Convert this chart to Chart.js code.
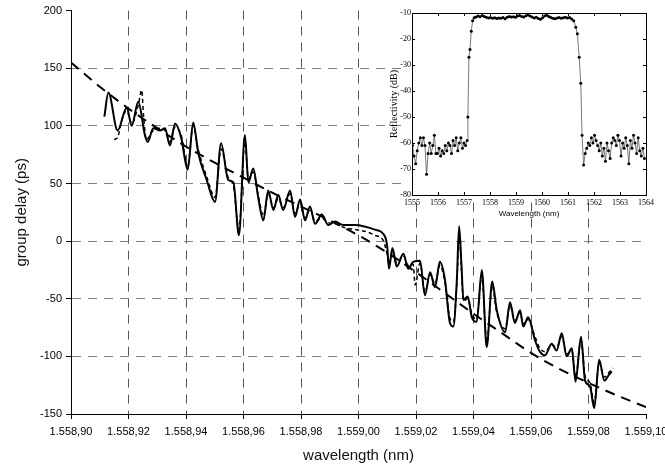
<!DOCTYPE html>
<html>
<head>
<meta charset="utf-8">
<script src="https://cdn.jsdelivr.net/npm/chart.js@4.4.1/dist/chart.umd.min.js"></script>
<style>
  html, body { margin: 0; padding: 0; background: #fff; overflow: hidden; width: 665px; height: 470px; }
  #wrap { position: relative; width: 665px; height: 470px; }
  #main { position: absolute; left: 0; top: 0; }
  #inset { position: absolute; left: 370px; top: 0; }
</style>
</head>
<body>
<div id="wrap">
  <canvas id="main" width="700" height="470"></canvas>
  <canvas id="inset" width="290" height="225"></canvas>
</div>
<script>
// group delay, measurement 1 (solid)
const measWl1 = [1558.9116, 1558.9130, 1558.9162, 1558.9194, 1558.9211, 1558.9234, 1558.9257, 1558.9267, 1558.9286, 1558.9310,
  1558.9327, 1558.9344, 1558.9362, 1558.9383, 1558.9406, 1558.9425, 1558.9443, 1558.9472, 1558.9501, 1558.9522,
  1558.9547, 1558.9565, 1558.9584, 1558.9605, 1558.9617, 1558.9634, 1558.9651, 1558.9669, 1558.9686, 1558.9704,
  1558.9721, 1558.9738, 1558.9762, 1558.9779, 1558.9797, 1558.9814, 1558.9831, 1558.9849, 1558.9872, 1558.9895,
  1558.9918, 1558.9947, 1558.9988, 1559.0057, 1559.0092, 1559.0100, 1559.0106, 1559.0118, 1559.0133, 1559.0156,
  1559.0173, 1559.0190, 1559.0214, 1559.0231, 1559.0249, 1559.0266, 1559.0283, 1559.0301, 1559.0318, 1559.0330,
  1559.0342, 1559.0350, 1559.0358, 1559.0365, 1559.0380, 1559.0394, 1559.0411, 1559.0429, 1559.0446, 1559.0465,
  1559.0481, 1559.0510, 1559.0527, 1559.0544, 1559.0562, 1559.0573, 1559.0590, 1559.0614, 1559.0631, 1559.0649,
  1559.0672, 1559.0689, 1559.0707, 1559.0724, 1559.0742, 1559.0755, 1559.0774, 1559.0788, 1559.0805, 1559.0820,
  1559.0837, 1559.0855, 1559.0871, 1559.0881];
const measDelay1 = [108, 129, 96, 116, 100, 121, 92, 86, 98, 96,
  98, 83, 102, 90, 62, 103, 76, 53, 34, 85,
  53, 51, 5, 92, 51, 63, 38, 18, 44, 27,
  40, 27, 44, 21, 36, 18, 30, 15, 23, 14,
  17, 14, 14, 10, 4, -5, -24, -6, -22, -11,
  -24, -18, -17, -47, -27, -40, -18, -34, -71, -74,
  -34, 13, -20, -51, -48, -66, -70, -25, -92, -35,
  -60, -79, -53, -71, -60, -74, -66, -86, -96, -99,
  -89, -95, -80, -100, -93, -122, -83, -121, -126, -145,
  -103, -121, -116, -113];

// group delay, measurement 2 (dashed)
const measWl2 = [1558.9150, 1558.9162, 1558.9180, 1558.9194, 1558.9211, 1558.9234, 1558.9246, 1558.9252, 1558.9262, 1558.9286,
  1558.9310, 1558.9327, 1558.9344, 1558.9362, 1558.9383, 1558.9406, 1558.9425, 1558.9443, 1558.9472, 1558.9501,
  1558.9522, 1558.9547, 1558.9565, 1558.9584, 1558.9605, 1558.9617, 1558.9634, 1558.9651, 1558.9669, 1558.9686,
  1558.9704, 1558.9721, 1558.9738, 1558.9762, 1558.9779, 1558.9797, 1558.9814, 1558.9831, 1558.9849, 1558.9872,
  1558.9895, 1558.9918, 1558.9947, 1558.9988, 1559.0030, 1559.0057, 1559.0085, 1559.0100, 1559.0106, 1559.0118,
  1559.0133, 1559.0156, 1559.0173, 1559.0190, 1559.0197, 1559.0214, 1559.0231, 1559.0249, 1559.0266, 1559.0283,
  1559.0301, 1559.0318, 1559.0330, 1559.0342, 1559.0350, 1559.0358, 1559.0365, 1559.0380, 1559.0394, 1559.0411,
  1559.0429, 1559.0446, 1559.0465, 1559.0481, 1559.0510, 1559.0527, 1559.0544, 1559.0562, 1559.0573, 1559.0590,
  1559.0614, 1559.0631, 1559.0649, 1559.0672, 1559.0689, 1559.0707, 1559.0724, 1559.0742, 1559.0755, 1559.0774,
  1559.0788, 1559.0805, 1559.0820, 1559.0837, 1559.0855, 1559.0871, 1559.0885];
const measDelay2 = [88, 90, 108, 113, 102, 118, 131, 110, 88, 96,
  98, 96, 86, 99, 92, 65, 100, 79, 56, 38,
  80, 55, 48, 10, 86, 54, 60, 40, 22, 41,
  29, 37, 29, 41, 24, 33, 20, 28, 17, 20,
  16, 15, 12, 10, 8, 5, 1, -12, -20, -9,
  -19, -13, -21, -20, -38, -19, -44, -29, -37, -21,
  -36, -67, -70, -38, 5, -24, -52, -50, -63, -68,
  -30, -88, -39, -62, -76, -56, -69, -62, -72, -68,
  -83, -93, -96, -90, -92, -83, -98, -95, -118, -86,
  -117, -123, -140, -106, -118, -114, -110];

// fitted group delay (long dashes)
const fitWl = [1558.90, 1558.91, 1558.92, 1558.93, 1558.94, 1558.95, 1558.96, 1558.97, 1558.98, 1558.99, 1559.00,
  1559.01, 1559.02, 1559.03, 1559.04, 1559.05, 1559.06, 1559.07, 1559.08, 1559.09, 1559.10];
const fitDelay = [155, 134, 115, 98, 82, 68, 55, 42, 30, 18, 5,
  -10, -27, -45, -63, -80, -97, -111, -123, -134, -144];

// inset: reflectivity spectrum
const reflWlLow = [1555.02, 1555.08, 1555.14, 1555.20, 1555.26, 1555.32, 1555.38, 1555.44, 1555.50, 1555.56,
  1555.62, 1555.68, 1555.74, 1555.80, 1555.86, 1555.92, 1555.98, 1556.04, 1556.10, 1556.16,
  1556.22, 1556.28, 1556.34, 1556.40, 1556.46, 1556.52, 1556.58, 1556.64, 1556.70, 1556.76,
  1556.82, 1556.88, 1556.94, 1557.00, 1557.06, 1557.12];
const reflDbLow = [-61, -65, -68, -63, -60, -58, -61, -58, -61, -72,
  -64, -60, -64, -61, -57, -64, -64, -62, -65, -63,
  -64, -61, -63, -60, -61, -64, -59, -61, -58, -63,
  -60, -58, -62, -60, -61, -59];
const reflWlRise = [1557.15, 1557.19, 1557.23, 1557.28, 1557.33, 1557.39];
const reflDbRise = [-50, -27, -24, -17, -13, -11.8];
const reflWlTop = [1557.46, 1557.54, 1557.62, 1557.70, 1557.78, 1557.86, 1557.94, 1558.02, 1558.10, 1558.18,
  1558.26, 1558.34, 1558.42, 1558.50, 1558.58, 1558.66, 1558.74, 1558.82, 1558.90, 1558.98,
  1559.06, 1559.14, 1559.22, 1559.30, 1559.38, 1559.46, 1559.54, 1559.62, 1559.70, 1559.78,
  1559.86, 1559.94, 1560.02, 1560.10, 1560.18, 1560.26, 1560.34, 1560.42, 1560.50, 1560.58,
  1560.66, 1560.74, 1560.82, 1560.90, 1560.98, 1561.06, 1561.14];
const reflDbTop = [-11.5, -11.2, -11.4, -11.0, -11.3, -11.6, -11.9, -11.7, -12.0, -11.8,
  -12.1, -11.9, -12.0, -11.7, -12.2, -11.6, -11.3, -11.5, -11.4, -11.6,
  -11.2, -11.0, -11.3, -11.5, -11.1, -10.8, -11.2, -11.5, -11.9, -11.6,
  -12.1, -12.4, -11.8, -11.2, -10.9, -11.3, -11.7, -12.0, -12.2, -11.9,
  -11.7, -12.0, -11.8, -11.6, -11.9, -11.7, -12.3];
const reflWlFall = [1561.22, 1561.30, 1561.36, 1561.43, 1561.49, 1561.54, 1561.60];
const reflDbFall = [-13, -15.5, -18, -27, -37, -57, -68.5];
const reflWlHigh = [1561.66, 1561.72, 1561.78, 1561.84, 1561.90, 1561.96, 1562.02, 1562.08, 1562.14, 1562.20,
  1562.26, 1562.32, 1562.38, 1562.44, 1562.50, 1562.56, 1562.62, 1562.68, 1562.74, 1562.80,
  1562.86, 1562.92, 1562.98, 1563.04, 1563.10, 1563.16, 1563.22, 1563.28, 1563.34, 1563.40,
  1563.46, 1563.52, 1563.58, 1563.64, 1563.70, 1563.76, 1563.82, 1563.88, 1563.94];
const reflDbHigh = [-64, -62, -60, -61, -58, -60, -57, -59, -61, -63,
  -60, -65, -62, -67, -60, -63, -66, -60, -58, -59,
  -61, -57, -59, -65, -60, -62, -58, -61, -68, -59,
  -62, -57, -60, -64, -58, -63, -65, -62, -66];

const toPts = (xs, ys) => xs.map((x, i) => ({ x: x, y: ys[i] }));

// 1558.9 -> "1.558,90"
function fmtWl(v) {
  const parts = Number(v).toFixed(2).split('.');
  return parts[0].slice(0, 1) + '.' + parts[0].slice(1) + ',' + parts[1];
}

const sans = 'Liberation Sans';
const serif = 'Liberation Serif';

new Chart(document.getElementById('main'), {
  type: 'line',
  data: {
    datasets: [
      { data: toPts(measWl1, measDelay1), borderColor: '#000', borderWidth: 2, pointRadius: 0, cubicInterpolationMode: 'monotone' },
      { data: toPts(measWl2, measDelay2), borderColor: '#000', borderWidth: 1.5, borderDash: [4, 3], pointRadius: 0, cubicInterpolationMode: 'monotone' },
      { data: toPts(fitWl, fitDelay), borderColor: '#000', borderWidth: 2, borderDash: [10, 7], pointRadius: 0, cubicInterpolationMode: 'monotone' }
    ]
  },
  options: {
    responsive: false,
    animation: false,
    layout: { padding: { left: 10, top: 10, right: 54, bottom: 0 } },
    plugins: { legend: { display: false }, tooltip: { enabled: false } },
    scales: {
      x: {
        type: 'linear', min: 1558.90, max: 1559.10,
        ticks: { stepSize: 0.02, callback: fmtWl, autoSkip: false, maxRotation: 0, padding: 6, color: '#000', font: { family: sans, size: 11 } },
        grid: {
          color: c => (c.tick && (c.tick.value > 1559.099 || c.tick.value < 1558.901)) ? 'rgba(0,0,0,0)' : '#555',
          tickColor: '#000', tickLength: 5, lineWidth: 1
        },
        border: { color: '#000', width: 1, dash: [9, 7] },
        title: { display: true, text: 'wavelength (nm)', color: '#111', font: { family: sans, size: 15 }, padding: { top: 4, bottom: 5 } },
        afterFit: s => { s.height = 56; }
      },
      y: {
        min: -150, max: 200,
        ticks: { stepSize: 50, padding: 4, color: '#000', font: { family: sans, size: 11 } },
        grid: {
          color: c => (c.tick && (c.tick.value === 200 || c.tick.value === -150)) ? 'rgba(0,0,0,0)' : '#808080',
          tickColor: '#000', tickLength: 5, lineWidth: 1
        },
        border: { color: '#000', width: 1, dash: [9, 7] },
        title: { display: true, text: 'group delay (ps)', color: '#111', font: { family: sans, size: 15 }, padding: { top: 3, bottom: 0 } },
        afterFit: s => { s.width = 61; }
      }
    }
  }
});

// white backing, frame and inward ticks for the inset
const insetFrame = {
  id: 'insetFrame',
  beforeDraw(chart) {
    const { ctx, chartArea: a } = chart;
    ctx.save();
    ctx.fillStyle = '#fff';
    ctx.fillRect(a.left - 5, 0, a.right - a.left + 7, a.bottom + 1);
    ctx.restore();
  },
  afterDraw(chart) {
    const { ctx, chartArea: a, scales } = chart;
    ctx.save();
    ctx.strokeStyle = '#000';
    ctx.lineWidth = 1;
    ctx.strokeRect(Math.round(a.left) + 0.5, Math.round(a.top) + 0.5, Math.round(a.right - a.left), Math.round(a.bottom - a.top));
    ctx.beginPath();
    scales.x.ticks.forEach(t => {
      const px = Math.round(scales.x.getPixelForValue(t.value)) + 0.5;
      ctx.moveTo(px, a.top); ctx.lineTo(px, a.top + 3);
      ctx.moveTo(px, a.bottom); ctx.lineTo(px, a.bottom - 3);
    });
    scales.y.ticks.forEach(t => {
      const py = Math.round(scales.y.getPixelForValue(t.value)) + 0.5;
      ctx.moveTo(a.left, py); ctx.lineTo(a.left + 3, py);
      ctx.moveTo(a.right, py); ctx.lineTo(a.right - 3, py);
    });
    ctx.stroke();
    ctx.restore();
  }
};

const reflWl = reflWlLow.concat(reflWlRise, reflWlTop, reflWlFall, reflWlHigh);
const reflDb = reflDbLow.concat(reflDbRise, reflDbTop, reflDbFall, reflDbHigh);

new Chart(document.getElementById('inset'), {
  type: 'line',
  data: {
    datasets: [{
      data: toPts(reflWl, reflDb),
      borderColor: '#555', borderWidth: 0.8,
      pointRadius: 1.5, pointBackgroundColor: '#000', pointBorderWidth: 0,
      tension: 0
    }]
  },
  options: {
    responsive: false,
    animation: false,
    layout: { padding: { left: 18, top: 13, right: 14, bottom: 0 } },
    plugins: { legend: { display: false }, tooltip: { enabled: false } },
    scales: {
      x: {
        type: 'linear', min: 1555, max: 1564,
        ticks: { stepSize: 1, callback: v => String(v), autoSkip: false, maxRotation: 0, padding: 3, color: '#000', font: { family: serif, size: 8 } },
        grid: { display: false, drawTicks: false },
        border: { display: false },
        title: { display: true, text: 'Wavelength (nm)', color: '#000', font: { family: sans, size: 8 }, padding: { top: 0, bottom: 6 } },
        afterFit: s => { s.height = 30; }
      },
      y: {
        min: -80, max: -10,
        ticks: { stepSize: 10, callback: v => String(v), padding: 1, color: '#000', font: { family: serif, size: 8 } },
        grid: { display: false, drawTicks: false },
        border: { display: false },
        title: { display: true, text: 'Reflectivity (dB)', color: '#000', font: { family: serif, size: 10 }, padding: { top: 0, bottom: 0 } },
        afterFit: s => { s.width = 24; }
      }
    }
  },
  plugins: [insetFrame]
});
</script>
</body>
</html>
